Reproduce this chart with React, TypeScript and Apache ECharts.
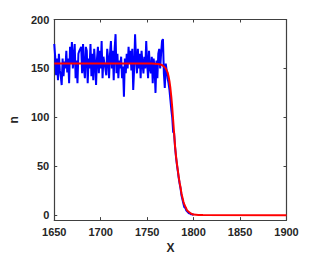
import React, { useEffect, useRef } from "react";
import * as echarts from "echarts";

const blueStartYear = 1650;
const blueValues = [
  175, 162, 143, 160, 138, 165, 148, 142, 133, 160,
  142, 157, 150, 168, 146, 160, 135, 172, 155, 177,
  150, 162, 175, 140, 158, 135, 165, 168, 170, 172,
  145, 175, 150, 140, 172, 168, 135, 160, 150, 175,
  142, 165, 138, 170, 155, 133, 160, 172, 145, 168,
  150, 178, 140, 162, 155, 150, 143, 170, 160, 140,
  165, 178, 150, 168, 138, 170, 185, 145, 165, 140,
  158, 150, 162, 140, 152, 121, 160, 145, 165, 150,
  172, 155, 168, 148, 170, 128, 150, 185, 160, 145,
  170, 150, 165, 140, 168, 155, 145, 162, 150, 178,
  155, 140, 168, 150, 145, 162, 135, 160, 150, 125,
  158, 140, 165, 170, 150, 165, 178, 180, 145, 130,
  155, 148, 140, 135, 128, 118, 108, 100, 85, 84,
  70, 60, 52, 45, 38, 32, 27, 20, 16, 12,
  8, 8, 5, 4, 3, 2, 2, 1, 1, 1, 0,
];

const redYears = [
  1650, 1755, 1762, 1766, 1768, 1770, 1772, 1773, 1774, 1775, 1776, 1777,
  1778, 1779, 1780, 1781, 1782, 1783, 1784, 1785, 1786, 1787, 1788, 1789,
  1790, 1791, 1792, 1793, 1794, 1795, 1796, 1797, 1798, 1799, 1800, 1805,
  1810, 1900,
];
const redValues = [
  155, 155, 154.5, 153.5, 152, 150, 146, 142, 137, 130, 121, 110,
  97, 84, 71, 61, 53, 46, 39, 33, 28, 22, 18, 14,
  11, 9, 7, 5, 4, 3.3, 2.5, 1.8, 1.3, 1, 0.6, 0.2,
  0.1, 0,
];

const xTicks = [1650, 1700, 1750, 1800, 1850, 1900];
const yTicks = [0, 50, 100, 150, 200];

export default function App() {
  const ref = useRef<HTMLDivElement>(null);
  useEffect(() => {
    if (!ref.current) return;
    const chart = echarts.init(ref.current, undefined, { renderer: "svg" });
    const axisColor = "#404040";
    const labelStyle = {
      color: "#262626",
      fontFamily: "Liberation Sans",
      fontWeight: "bold" as const,
      fontSize: 11,
    };
    const blueData = blueValues.map((v, i) => [blueStartYear + i, v]);
    const redData = redYears.map((y, i) => [y, redValues[i]]);
    chart.setOption({
      animation: false,
      grid: { left: 41, top: 19.5, right: 29.5, bottom: 34.5, containLabel: false },
      xAxis: [
        {
          type: "value",
          min: 1650,
          max: 1900,
          interval: 50,
          position: "bottom",
          name: "X",
          nameLocation: "middle",
          nameGap: 20,
          nameTextStyle: { ...labelStyle, fontSize: 12 },
          axisLine: { show: true, onZero: false, lineStyle: { color: axisColor, width: 1.2 } },
          axisTick: { show: true, inside: true, length: 3, lineStyle: { color: axisColor } },
          axisLabel: { ...labelStyle, margin: 6, customValues: xTicks, formatter: (v: number) => String(v) },
          splitLine: { show: false },
        },
        {
          type: "value",
          min: 1650,
          max: 1900,
          interval: 50,
          position: "top",
          axisLine: { show: true, onZero: false, lineStyle: { color: axisColor, width: 1.2 } },
          axisTick: { show: true, inside: true, length: 3, lineStyle: { color: axisColor } },
          axisLabel: { show: false },
          splitLine: { show: false },
        },
      ],
      yAxis: [
        {
          type: "value",
          min: -5,
          max: 200,
          position: "left",
          name: "n",
          nameLocation: "middle",
          nameGap: 27,
          nameRotate: 90,
          nameTextStyle: { ...labelStyle, fontSize: 12 },
          axisLine: { show: true, onZero: false, lineStyle: { color: axisColor, width: 1.2 } },
          axisTick: { show: true, inside: true, length: 3, customValues: yTicks, lineStyle: { color: axisColor } },
          axisLabel: { ...labelStyle, margin: 5, customValues: yTicks },
          splitLine: { show: false },
        },
        {
          type: "value",
          min: -5,
          max: 200,
          position: "right",
          axisLine: { show: true, onZero: false, lineStyle: { color: axisColor, width: 1.2 } },
          axisTick: { show: true, inside: true, length: 3, customValues: yTicks, lineStyle: { color: axisColor } },
          axisLabel: { show: false },
          splitLine: { show: false },
        },
      ],
      series: [
        {
          type: "line",
          data: blueData,
          xAxisIndex: 0,
          yAxisIndex: 0,
          showSymbol: false,
          symbol: "none",
          lineStyle: { color: "#0000ff", width: 2 },
          z: 2,
        },
        {
          type: "line",
          data: redData,
          xAxisIndex: 0,
          yAxisIndex: 0,
          showSymbol: false,
          symbol: "none",
          lineStyle: { color: "#ff0000", width: 2 },
          z: 3,
        },
      ],
    });
    return () => chart.dispose();
  }, []);
  return <div ref={ref} style={{ width: 316, height: 259, position: "absolute", left: 0, top: 0, background: "#fff" }} />;
}
